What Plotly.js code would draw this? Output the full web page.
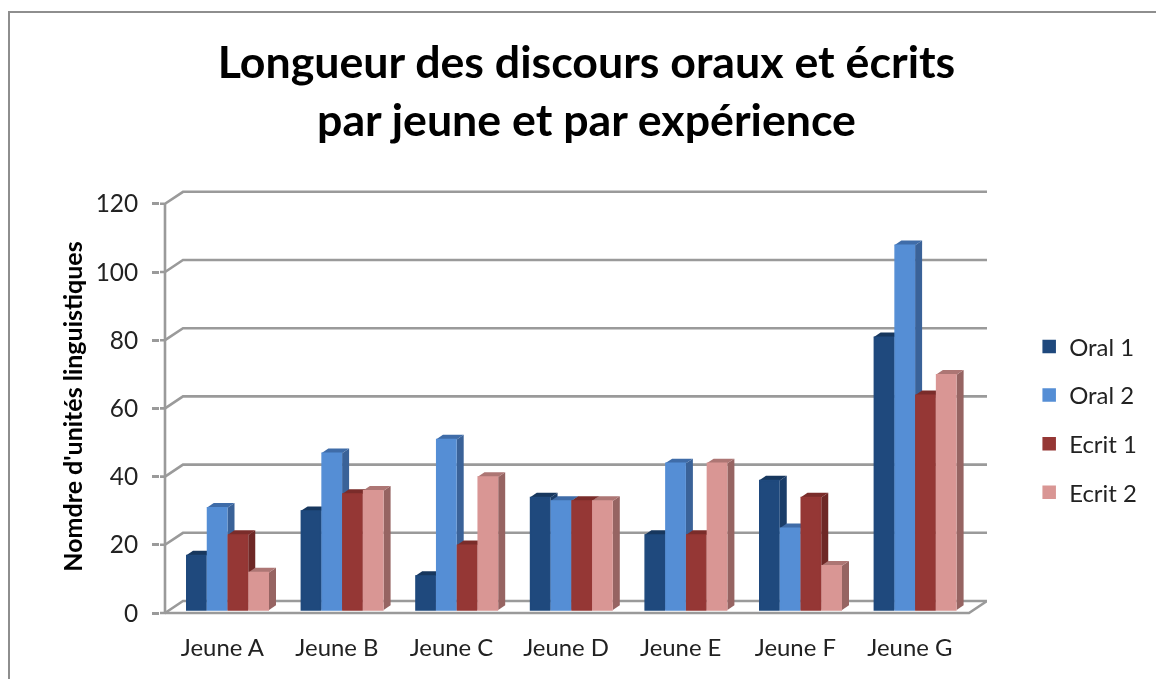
<!DOCTYPE html>
<html><head><meta charset="utf-8">
<script src="https://cdn.plot.ly/plotly-3.0.1.min.js"></script>
<style>
html,body{margin:0;padding:0;background:#fff;width:1156px;height:679px;overflow:hidden}
#chart{position:absolute;left:0;top:0;width:1156px;height:679px;filter:blur(0.7px)}
#frame{position:absolute;left:8px;top:11px;width:1150px;height:680px;border:2px solid #8e8e8e;box-sizing:border-box;pointer-events:none;filter:blur(0.4px)}
</style></head><body>
<div id="chart"></div><div id="frame"></div>
<script>
const categories = ['Jeune A','Jeune B','Jeune C','Jeune D','Jeune E','Jeune F','Jeune G'];
const seriesNames = ['Oral 1','Oral 2','Ecrit 1','Ecrit 2'];
const oral1  = [16,29,10,33,22,38,80];
const oral2  = [30,46,50,32,43,24,107];
const ecrit1 = [22,34,19,32,22,33,63];
const ecrit2 = [11,35,39,32,43,13,69];
const yTicks = [0,20,40,60,80,100,120];
const frontColors = ['#1f497d','#558ed5','#953735','#d99694'];
const sideColors  = ['#1a3d69','#3a6298','#6e2826','#966462'];
const topColors   = ['#17375e','#3f6ca8','#7a2c2a','#ad7674'];
const gridColor = '#9a9a9a';

const allValues = [oral1,oral2,ecrit1,ecrit2];
const W=1156,H=679;
const zeroX=165, zeroY=613, plotL=160, plotR=987, plotT=188, plotB=625;
const pxPerUnitY=3.41, pxPerCat=114.6;
const yMin=(zeroY-plotB)/pxPerUnitY, yMax=(zeroY-plotT)/pxPerUnitY;
const xMin=(plotL-zeroX)/pxPerCat, xMax=(plotR-zeroX)/pxPerCat;
const backDX=18/pxPerCat, backDY=12/pxPerUnitY;
const barStart=21/pxPerCat, barW=20.75/pxPerCat, barBase=3/pxPerUnitY;
const sideDX=7/pxPerCat, sideDY=4.7/pxPerUnitY;
const outlinePx=1.5;

const poly=(pts)=>'M'+pts.map(p=>p[0]+' '+p[1]).join(' L')+' Z';
const shapes=[];
const gridLine={color:gridColor,width:2.6};
yTicks.forEach(v=>{
  shapes.push({type:'path',xref:'x',yref:'y',layer:'below',line:gridLine,
    path:`M${xMin} ${v} L0 ${v} L${backDX} ${v+backDY} L${xMax} ${v+backDY}`});
});
shapes.push({type:'path',xref:'x',yref:'y',layer:'below',line:gridLine,
  path:`M0 0 L${xMax-backDX} 0 L${xMax} ${backDY}`});
shapes.push({type:'path',xref:'x',yref:'y',layer:'below',line:gridLine,
  path:`M0 0 L0 ${yTicks[yTicks.length-1]}`});
categories.forEach((c,i)=>{
  allValues.forEach((vals,s)=>{
    const x0=i+barStart+s*barW, x1=x0+barW, y0=barBase, y1=barBase+vals[i];
    shapes.push({type:'path',xref:'x',yref:'y',layer:'below',line:{width:0},fillcolor:sideColors[s],
      path:poly([[x1,y0],[x1+sideDX,y0+sideDY],[x1+sideDX,y1+sideDY],[x1,y1]])});
    shapes.push({type:'path',xref:'x',yref:'y',layer:'below',line:{width:0},fillcolor:topColors[s],
      path:poly([[x0,y1],[x0+sideDX,y1+sideDY],[x1+sideDX,y1+sideDY],[x1,y1]])});
  });
});
const traces=allValues.map((vals,s)=>({
  type:'bar',name:seriesNames[s],legendgroup:seriesNames[s],
  x:categories.map((c,i)=>i+barStart+(s+0.5)*barW),
  y:vals,base:barBase,width:barW-outlinePx/pxPerCat,
  marker:{color:frontColors[s],line:{width:outlinePx,color:frontColors[s]}},
  hovertemplate:seriesNames[s]+': %{y}<extra></extra>'
}));
const font='Lato, "Open Sans", sans-serif';
const layout={
  width:W,height:H,paper_bgcolor:'#fff',plot_bgcolor:'rgba(0,0,0,0)',
  margin:{l:plotL,r:W-plotR,t:plotT,b:H-plotB,pad:0},
  barmode:'overlay',showlegend:true,
  font:{family:font,color:'#222'},
  title:{text:'<b>Longueur des discours oraux et écrits<br>par jeune et par expérience</b>',
    font:{family:font,size:44.7,color:'#000'},x:586.5/W,xanchor:'center',y:0.885,yanchor:'middle'},
  xaxis:{range:[xMin,xMax],showgrid:false,zeroline:false,showline:false,ticks:'',
    tickmode:'array',tickvals:categories.map((c,i)=>i+0.5),ticktext:categories,
    tickfont:{family:font,size:23.9,color:'#222'},ticklabelstandoff:6},
  yaxis:{range:[yMin,yMax],showgrid:false,zeroline:false,showline:false,
    ticks:'outside',ticklen:7,tickwidth:2.6,tickcolor:gridColor,
    tickmode:'array',tickvals:yTicks,ticklabelstandoff:9,
    tickfont:{family:font,size:24.4,color:'#222'},
    title:{text:"<b>Nomdre d'unités linguistiques</b>",font:{family:font,size:25,color:'#000'},standoff:5}},
  legend:{x:1.051,xref:'paper',xanchor:'left',y:(plotB-419.5)/(plotB-plotT),yanchor:'middle',
    bgcolor:'rgba(0,0,0,0)',traceorder:'grouped',tracegroupgap:14.5,
    font:{family:font,size:23.9,color:'#222'},itemwidth:30},
  shapes:shapes
};
Plotly.newPlot('chart',traces,layout,{displayModeBar:false});
</script></body></html>
